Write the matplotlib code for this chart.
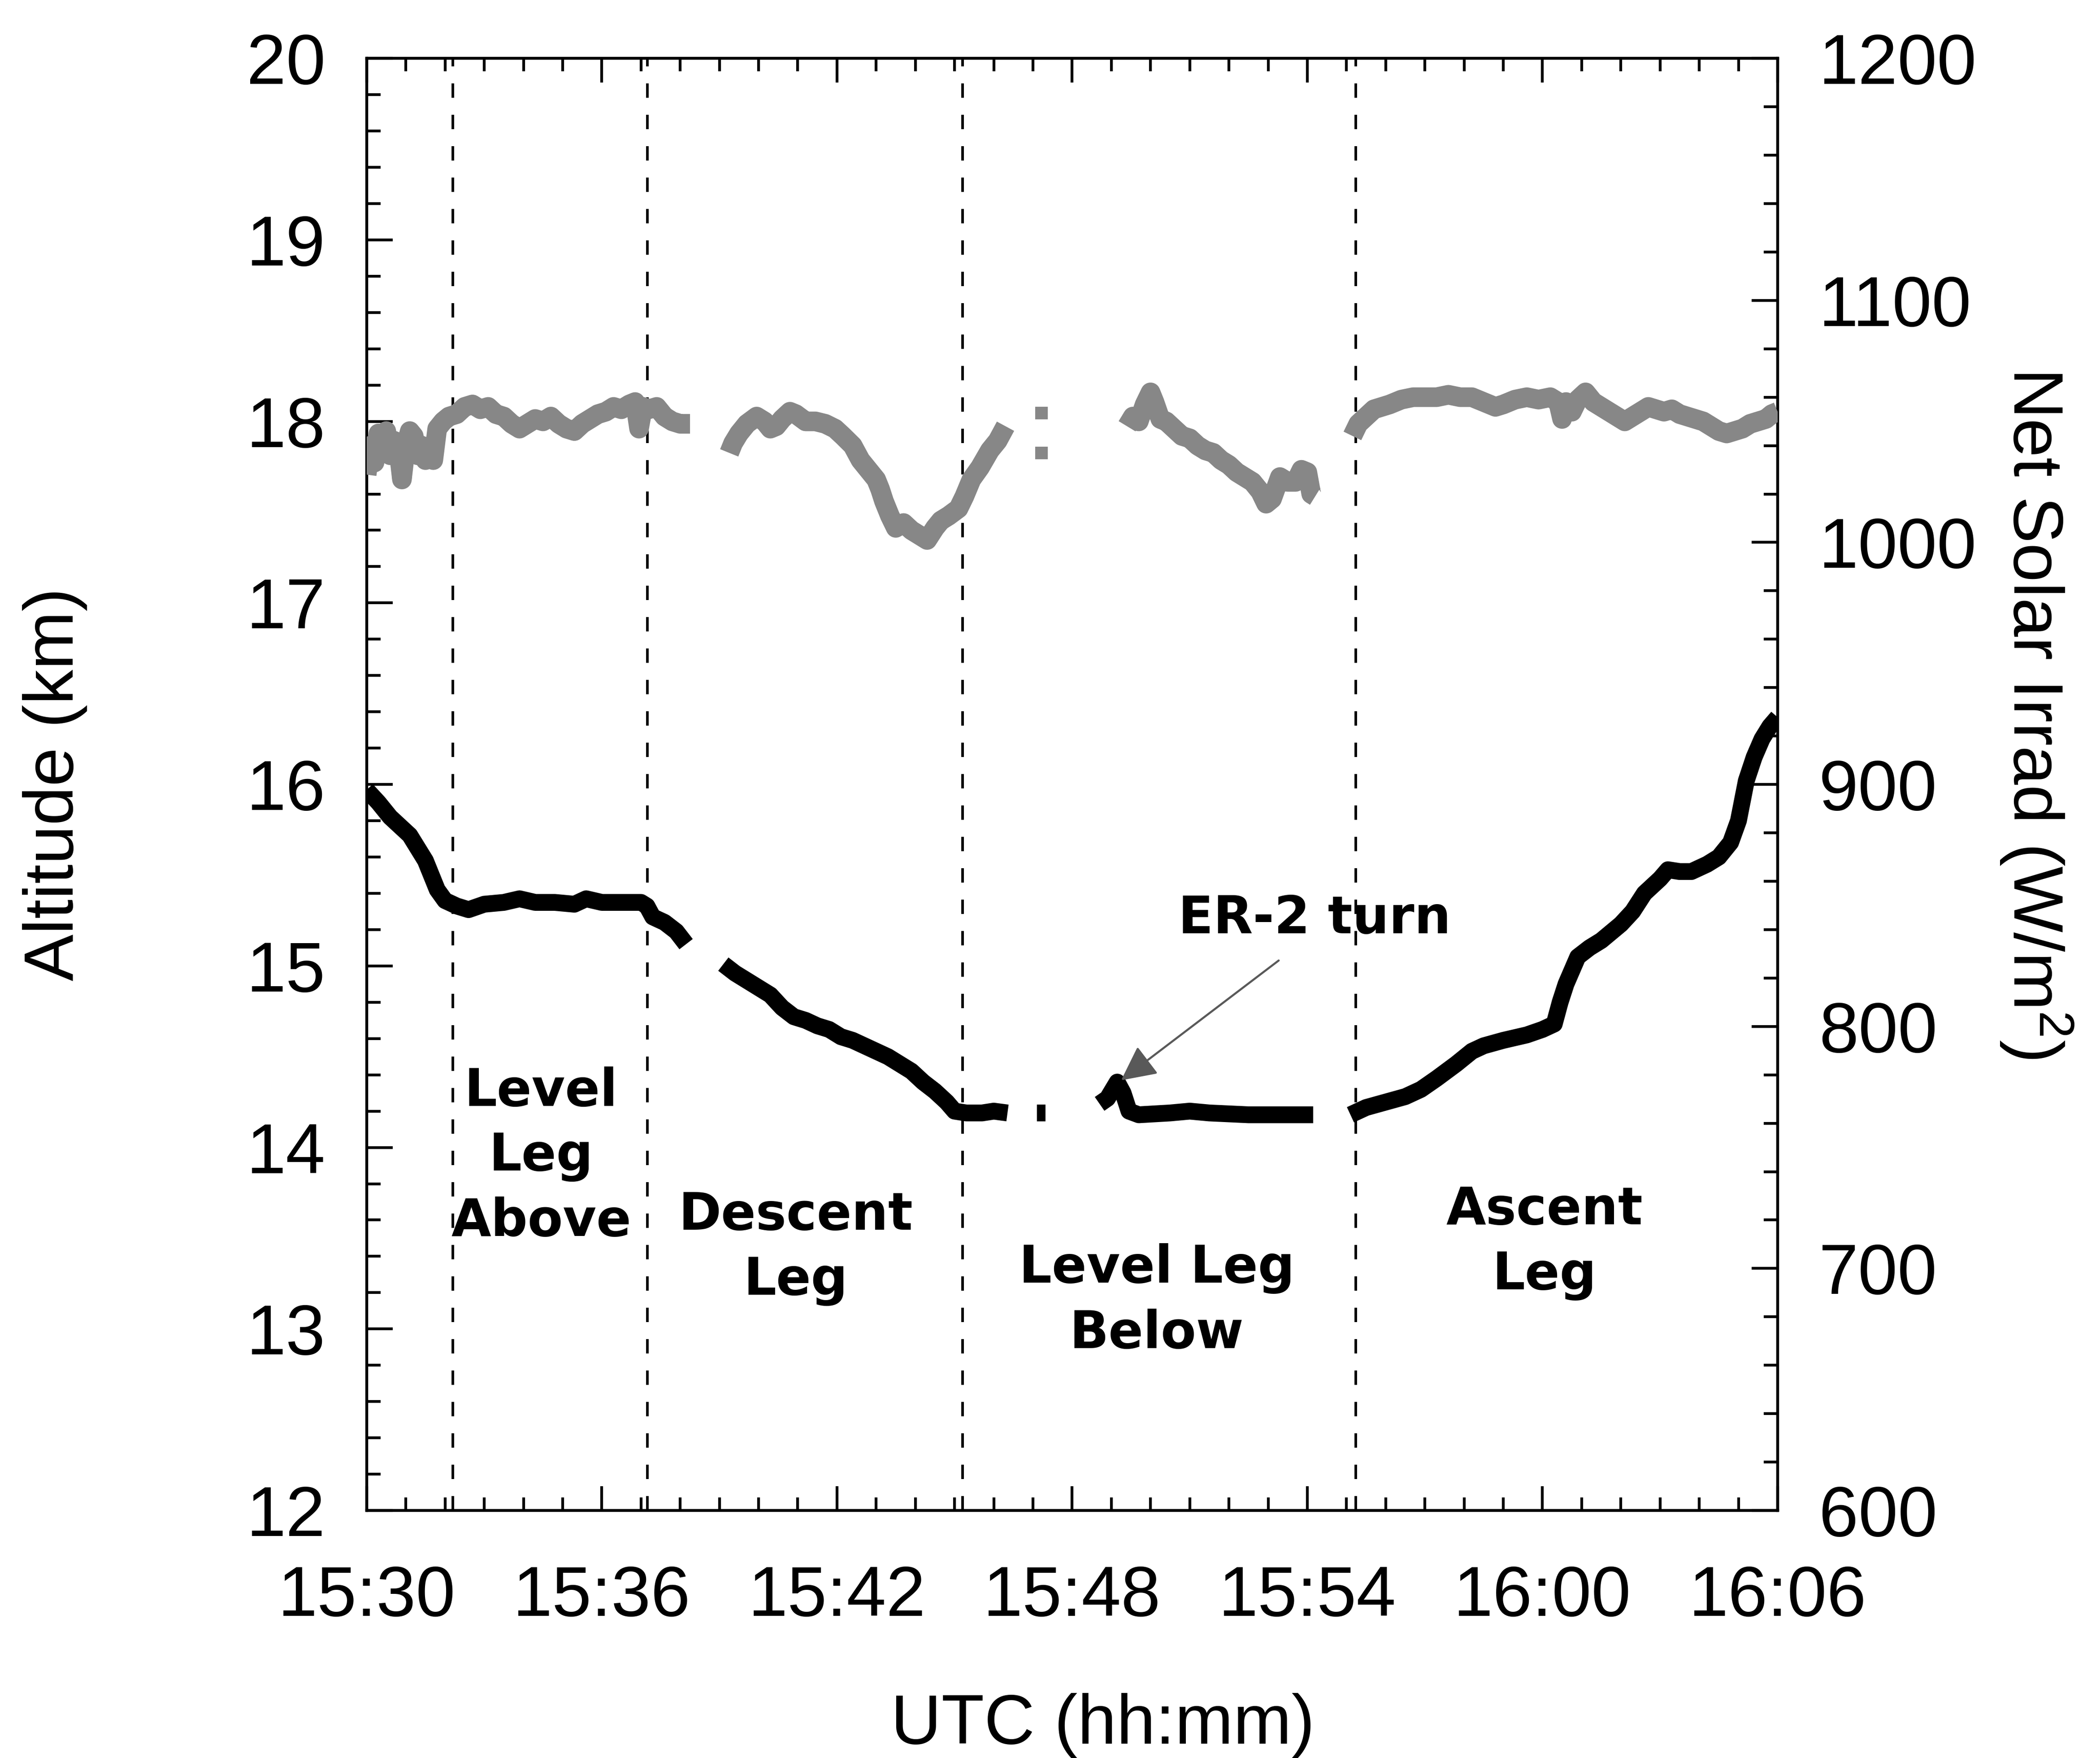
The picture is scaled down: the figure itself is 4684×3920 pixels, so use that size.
import numpy as np
import matplotlib
matplotlib.use("Agg")
import matplotlib.pyplot as plt
from matplotlib.ticker import MultipleLocator, FixedLocator, FixedFormatter

# ---------------- data (minutes after 15:30) ----------------
x_tick_minutes = [0, 6, 12, 18, 24, 30, 36]
x_tick_labels = ["15:30", "15:36", "15:42", "15:48", "15:54", "16:00", "16:06"]

# Altitude (km); NaN separates data gaps
alt_time = [0.0, 0.3, 0.6, 0.9, 1.1, 1.3, 1.5, 1.65, 1.8, 2.0, 2.3, 2.6, 3.0, 3.5, 3.9,
            4.3, 4.8, 5.3, 5.6, 6.0, 6.5, 7.0, 7.15, 7.3, 7.6, 7.9, 8.15,
            8.6,
            9.1, 9.4, 9.7, 10.0, 10.3, 10.6, 10.9, 11.2, 11.5, 11.8, 12.1, 12.4, 12.7,
            13.0, 13.3, 13.6, 13.9, 14.2, 14.5, 14.8, 15.0, 15.3, 15.7, 16.0, 16.35,
            16.8,
            17.1, 17.32,
            18.0,
            18.7, 18.9, 19.15, 19.3, 19.45, 19.7, 20.5, 21.0, 21.5, 22.5, 23.5, 24.15,
            24.6,
            25.1, 25.5, 26.0, 26.5, 26.9, 27.3, 27.8, 28.2, 28.5, 29.0, 29.6, 30.0, 30.3,
            30.45, 30.6, 30.9, 31.2, 31.5, 32.0, 32.3, 32.6, 33.0, 33.2, 33.5, 33.8, 34.2,
            34.5, 34.8, 35.0, 35.2, 35.4, 35.6, 35.8, 36.0]
alt_km = [15.97, 15.90, 15.82, 15.76, 15.72, 15.65, 15.58, 15.50, 15.42, 15.36, 15.33, 15.31,
          15.34, 15.35, 15.37, 15.35, 15.35, 15.34, 15.37, 15.35, 15.35, 15.35, 15.33, 15.27,
          15.24, 15.19, 15.12,
          np.nan,
          15.01, 14.96, 14.92, 14.88, 14.84, 14.77, 14.72, 14.70, 14.67, 14.65, 14.61, 14.59,
          14.56, 14.53, 14.50, 14.46, 14.42, 14.36, 14.31, 14.25, 14.20, 14.19, 14.19, 14.20,
          14.19,
          np.nan,
          14.19, 14.19,
          np.nan,
          14.24, 14.27, 14.36, 14.30, 14.20, 14.18, 14.19, 14.20, 14.19, 14.18, 14.18, 14.18,
          np.nan,
          14.18, 14.22, 14.25, 14.28, 14.32, 14.38, 14.46, 14.53, 14.56, 14.59, 14.62, 14.65,
          14.68, 14.80, 14.90, 15.05, 15.10, 15.14, 15.23, 15.30, 15.40, 15.48, 15.53, 15.52,
          15.52, 15.56, 15.60, 15.68, 15.80, 16.02, 16.15, 16.25, 16.32, 16.37]

# Net solar irradiance (W/m^2); NaN separates data gaps
irr_time = [0.0, 0.1, 0.2, 0.3, 0.4, 0.5, 0.6, 0.7, 0.8, 0.9, 1.0, 1.1, 1.2, 1.3, 1.4, 1.5,
            1.6, 1.7, 1.8, 1.95, 2.1, 2.3, 2.5, 2.7, 2.9, 3.1, 3.3, 3.5, 3.7, 3.9, 4.1, 4.3,
            4.5, 4.7, 4.9, 5.1, 5.3, 5.5, 5.7, 5.9, 6.1, 6.3, 6.5, 6.7, 6.85, 6.95, 7.05,
            7.2, 7.4, 7.6, 7.8, 8.0, 8.25,
            8.8,
            9.25, 9.35, 9.5, 9.7, 9.95, 10.15, 10.3, 10.45, 10.6, 10.8, 10.95, 11.2, 11.45,
            11.7, 11.95, 12.15, 12.4, 12.6, 12.8, 13.0, 13.1, 13.2, 13.35, 13.5, 13.7, 13.9,
            14.1, 14.3, 14.5, 14.65, 14.85, 15.1, 15.25, 15.43, 15.65, 15.9, 16.1, 16.3,
            18.5,
            19.4, 19.55, 19.7, 19.85, 20.0, 20.1, 20.25, 20.4, 20.6, 20.8, 21.0, 21.2, 21.4,
            21.6, 21.8, 22.0, 22.2, 22.4, 22.6, 22.8, 22.95, 23.1, 23.3, 23.5, 23.7, 23.85,
            24.0, 24.1, 24.2,
            24.7,
            25.15, 25.3, 25.5, 25.7, 25.9, 26.1, 26.4, 26.7, 27.0, 27.3, 27.6, 27.9, 28.2,
            28.5, 28.8, 29.0, 29.3, 29.6, 29.9, 30.2, 30.4, 30.5, 30.6, 30.75, 30.9, 31.1,
            31.3, 31.5, 31.7, 31.9, 32.1, 32.3, 32.5, 32.7, 32.9, 33.1, 33.3, 33.5, 33.7,
            33.9, 34.1, 34.3, 34.5, 34.7, 34.9, 35.1, 35.3, 35.5, 35.7, 35.85, 36.0]
irr_wm2 = [1028, 1040, 1033, 1045, 1038, 1046, 1036, 1042, 1040, 1026, 1040, 1046, 1044, 1036,
           1040, 1034, 1038, 1034, 1047, 1050, 1052, 1053, 1056, 1057, 1055, 1056, 1053, 1052,
           1049, 1047, 1049, 1051, 1050, 1052, 1049, 1047, 1046, 1049, 1051, 1053, 1054, 1056,
           1055, 1057, 1058, 1047, 1056, 1055, 1056, 1052, 1050, 1049, 1049,
           np.nan,
           1037, 1041, 1045, 1049, 1052, 1050, 1047, 1048, 1051, 1054, 1053, 1050, 1050, 1049,
           1047, 1044, 1040, 1034, 1030, 1026, 1022, 1017, 1011, 1006, 1008, 1005, 1003, 1001,
           1006, 1009, 1011, 1014, 1019, 1026, 1031, 1038, 1042, 1048,
           np.nan,
           1048, 1052, 1050, 1057, 1062, 1058, 1051, 1050, 1047, 1044, 1043, 1040, 1038, 1037,
           1034, 1032, 1029, 1027, 1025, 1021, 1016, 1018, 1027, 1025, 1025, 1030, 1029, 1020,
           1019,
           np.nan,
           1044, 1049, 1052, 1055, 1056, 1057, 1059, 1060, 1060, 1060, 1061, 1060, 1060, 1058,
           1056, 1057, 1059, 1060, 1059, 1060, 1058, 1051, 1058, 1054, 1059, 1062, 1058, 1056,
           1054, 1052, 1050, 1052, 1054, 1056, 1055, 1054, 1055, 1053, 1052, 1051, 1050, 1048,
           1046, 1045, 1046, 1047, 1049, 1050, 1051, 1053, 1054]

# Isolated irradiance samples near 15:47
irr_dot_time = [17.22, 17.22]
irr_dot_wm2 = [1053.5, 1037.0]

# Flight-leg boundaries (minutes after 15:30)
leg_bounds = [2.2, 7.16, 15.2, 25.24]

leg_labels = ["Level\nLeg\nAbove", "Descent\nLeg", "Level Leg\nBelow", "Ascent\nLeg"]
leg_label_x = [4.45, 10.95, 20.16, 30.05]
leg_label_y = [13.95, 13.445, 13.154, 13.475]

turn_label = "ER-2 turn"
turn_text_xy = (24.19, 15.18)
turn_tail_xy = (23.27, 15.03)
turn_point_xy = (19.25, 14.37)

# ---------------- figure ----------------
plt.rcParams["font.family"] = ["Liberation Sans", "DejaVu Sans"]
plt.rcParams["mathtext.fontset"] = "custom"
plt.rcParams["mathtext.rm"] = "Liberation Sans"
plt.rcParams["mathtext.it"] = "Liberation Sans:italic"
plt.rcParams["mathtext.bf"] = "Liberation Sans:bold"

DPI = 300
fig = plt.figure(figsize=(4684 / DPI, 3920 / DPI), dpi=DPI)
fig.patch.set_facecolor("white")
ax = fig.add_axes([0.1746, 0.1408, 0.6719, 0.8260])
ax2 = ax.twinx()

GRAY = "#878787"
# lines
ax2.plot(irr_time, irr_wm2, color=GRAY, lw=10.5, solid_capstyle="butt",
         solid_joinstyle="round", zorder=3)
ax2.plot(irr_dot_time, irr_dot_wm2, linestyle="none", marker="s", markersize=6.5,
         color=GRAY, markeredgewidth=0, zorder=3)
ax.plot(alt_time, alt_km, color="black", lw=9, solid_capstyle="butt",
        solid_joinstyle="round", zorder=3)

for b in leg_bounds:
    ax.axvline(b, color="black", lw=1.4, linestyle=(0, (5.5, 6.5)), zorder=2)

# axes limits
ax.set_xlim(0, 36)
ax.set_ylim(12, 20)
ax2.set_ylim(600, 1200)

# ticks
ax.xaxis.set_major_locator(FixedLocator(x_tick_minutes))
ax.xaxis.set_major_formatter(FixedFormatter(x_tick_labels))
ax.xaxis.set_minor_locator(MultipleLocator(1))
ax.yaxis.set_major_locator(MultipleLocator(1))
ax.yaxis.set_minor_locator(MultipleLocator(0.2))
ax2.yaxis.set_major_locator(MultipleLocator(100))
ax2.yaxis.set_minor_locator(MultipleLocator(20))

ax.tick_params(axis="x", which="both", direction="in", top=True, bottom=True,
               width=1.5, labelsize=38, pad=29)
ax.tick_params(axis="x", which="major", length=13)
ax.tick_params(axis="x", which="minor", length=7)
ax.tick_params(axis="y", which="both", direction="in", left=True, right=False,
               width=1.5, labelsize=38, pad=22)
ax.tick_params(axis="y", which="major", length=14)
ax.tick_params(axis="y", which="minor", length=7.5)
ax2.tick_params(axis="y", which="both", direction="in", left=False, right=True,
                width=1.5, labelsize=38, pad=22)
ax2.tick_params(axis="y", which="major", length=14)
ax2.tick_params(axis="y", which="minor", length=7.5)

for a in (ax, ax2):
    for s in a.spines.values():
        s.set_linewidth(1.5)

# axis labels
ax.set_xlabel("UTC (hh:mm)", fontsize=37.5)
ax.xaxis.set_label_coords(0.5218, -0.1257)
ax.set_ylabel("Altitude (km)", fontsize=37.5)
ax.yaxis.label.set_verticalalignment("center")
ax.yaxis.set_label_coords(-0.2208, 0.5)
ax2.set_ylabel(r"Net Solar Irrad (W/m$^{2}$)", fontsize=37.5, rotation=-90)
ax2.yaxis.label.set_verticalalignment("center")
ax2.yaxis.set_label_coords(1.1833, 0.549)

# leg annotations
ANN_FONT = dict(fontsize=27.5, fontweight="bold", family="DejaVu Sans")
for lab, lx, ly in zip(leg_labels, leg_label_x, leg_label_y):
    ax.text(lx, ly, lab, ha="center", va="center", multialignment="center",
            linespacing=1.37, zorder=4, **ANN_FONT)

ax.text(turn_text_xy[0], turn_text_xy[1], turn_label, ha="center", va="baseline",
        zorder=4, **ANN_FONT)
ax.annotate("", xy=turn_point_xy, xytext=turn_tail_xy,
            arrowprops=dict(arrowstyle="-|>", color="0.35", lw=1.1,
                            mutation_scale=40, shrinkA=0, shrinkB=0), zorder=4)

fig.savefig("out.png", dpi=DPI, facecolor="white")
